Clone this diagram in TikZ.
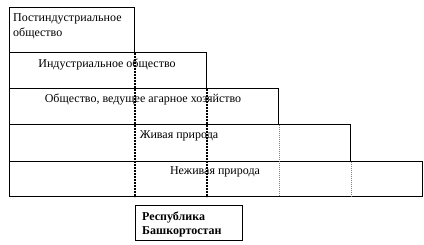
\documentclass[tikz,border=0pt]{standalone}
\usepackage{fontspec}
\setmainfont{Liberation Serif}
\begin{document}
\begin{tikzpicture}[x=1pt,y=-1pt,
  box/.style={draw=black,line width=1pt,inner sep=0pt,anchor=north west},
  txt/.style={inner sep=0pt,font=\fontsize{12}{15}\selectfont},
  thickdot/.style={line width=2.2pt,dash pattern=on 2pt off 1pt},
  thindot/.style={gray,line width=0.8pt,dash pattern=on 1pt off 1pt}]
\useasboundingbox (0,0) rectangle (424,245);
% boxes
\node[box,minimum width=125pt,minimum height=45pt] (b1) at (9,7) {};
\node[box,minimum width=197pt,minimum height=36pt] (b2) at (9,52) {};
\node[box,minimum width=269pt,minimum height=36pt] (b3) at (9,88) {};
\node[box,minimum width=341pt,minimum height=37pt] (b4) at (9,124) {};
\node[box,minimum width=413pt,minimum height=35pt] (b5) at (9,161) {};
\node[box,minimum width=107pt,minimum height=35pt] (rb) at (135,205) {};
% texts
\node[txt,anchor=north west,align=left] (t1) at (13,13) {Постиндустриальное\\общество};
\node[txt] (t2) at (107,65) {Индустриальное общество};
\node[txt] (t3) at (143,100) {Общество, ведущее агарное хозяйство};
\node[txt] (t4) at (179,136) {Живая природа};
\node[txt] (t5) at (215,172) {Неживая природа};
\node[txt,anchor=north west,align=left,font=\fontsize{12}{13.5}\selectfont\bfseries] (tr) at (142,212) {Республика\\Башкортостан};
% dotted continuations
\coordinate (d1) at (b1.south east |- b5.south);
\coordinate (d2) at (b2.south east |- b5.south);
\coordinate (d3) at (b3.south east |- b5.south);
\coordinate (d4) at (b4.south east |- b5.south);
\draw[thickdot] (b1.south east) -- (d1);
\draw[thickdot] (b2.south east) -- (d2);
\draw[thindot] (b3.south east) -- (d3);
\draw[thindot] (b4.south east) -- (d4);
\end{tikzpicture}
\end{document}
